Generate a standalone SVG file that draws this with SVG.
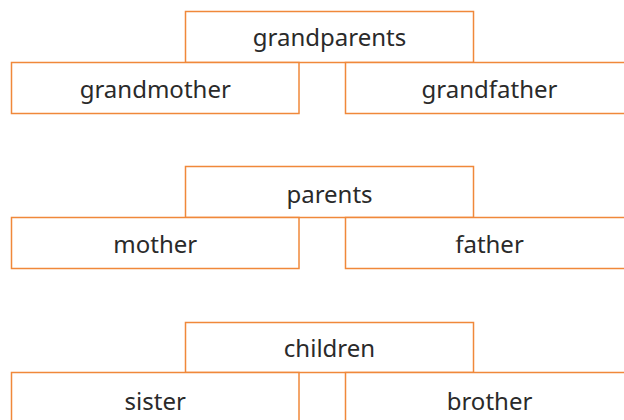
<svg xmlns="http://www.w3.org/2000/svg" width="624" height="420" viewBox="0 0 624 420">
<style>
.box{fill:#ffffff;stroke:#f0883a;stroke-width:1.5}
.lbl{font-family:"Noto Sans","DejaVu Sans",sans-serif;font-size:24px;fill:#2a2a2a;text-anchor:middle}
</style>
<rect width="624" height="420" fill="#ffffff"/>
<g id="connectors"></g>
<g id="grandparents"><rect class="box" x="185.5" y="11.5" width="288" height="51"/><text class="lbl" x="329.5" y="45.5">grandparents</text></g>
<g id="grandmother"><rect class="box" x="11.5" y="62.5" width="287.5" height="51"/><text class="lbl" x="155.25" y="97.5">grandmother</text></g>
<g id="grandfather"><rect class="box" x="345.5" y="62.5" width="288" height="51"/><text class="lbl" x="489.5" y="97.5">grandfather</text></g>
<g id="parents"><rect class="box" x="185.5" y="166.5" width="288" height="51"/><text class="lbl" x="329.5" y="203">parents</text></g>
<g id="mother"><rect class="box" x="11.5" y="217.5" width="287.5" height="51"/><text class="lbl" x="155.25" y="253">mother</text></g>
<g id="father"><rect class="box" x="345.5" y="217.5" width="288" height="51"/><text class="lbl" x="489.5" y="253">father</text></g>
<g id="children"><rect class="box" x="185.5" y="322.5" width="288" height="50"/><text class="lbl" x="329.5" y="356.5">children</text></g>
<g id="sister"><rect class="box" x="11.5" y="372.5" width="287.5" height="51"/><text class="lbl" x="155.25" y="409.5">sister</text></g>
<g id="brother"><rect class="box" x="345.5" y="372.5" width="288" height="51"/><text class="lbl" x="489.5" y="409.5">brother</text></g>
</svg>
